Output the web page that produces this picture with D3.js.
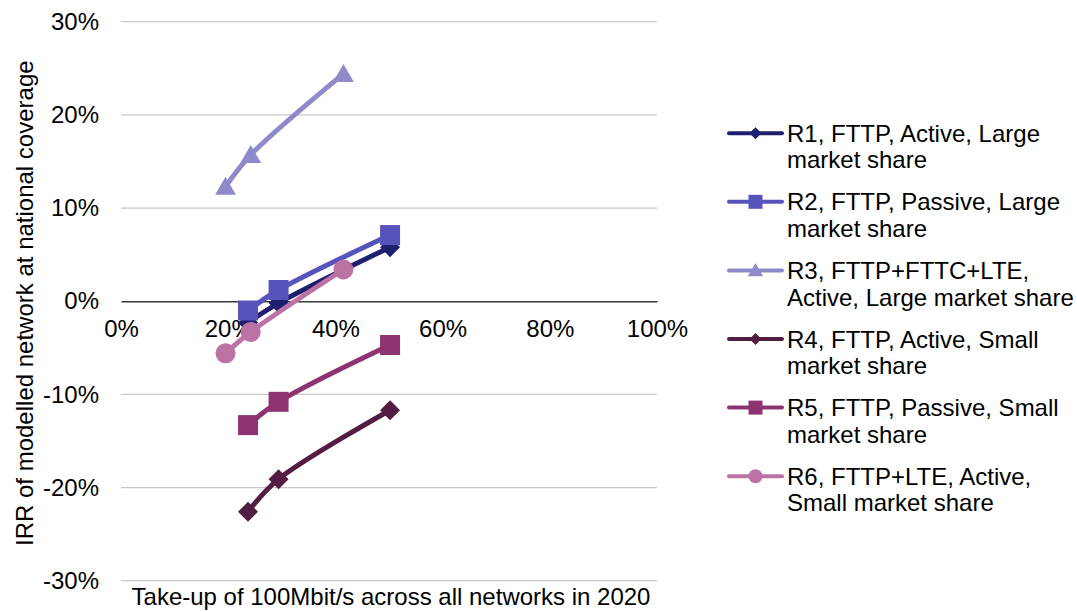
<!DOCTYPE html>
<html>
<head>
<meta charset="utf-8">
<script src="https://cdn.jsdelivr.net/npm/d3@7"></script>
<style>
  html, body { margin: 0; padding: 0; background: #fff; }
  svg { display: block; font-family: "Liberation Sans", Arial, sans-serif; }
</style>
</head>
<body>
<svg id="chart" width="1077" height="612"></svg>
<script>
// Take-up of 100Mbit/s (share) per scenario
const takeUpA = [0.237, 0.294, 0.502];   // R1, R2, R4, R5
const takeUpB = [0.195, 0.242, 0.415];   // R3, R6

// IRR per scenario
const irrR1 = [-0.023, -0.002, 0.058];
const irrR2 = [-0.010, 0.012, 0.071];
const irrR3 = [0.123, 0.157, 0.244];
const irrR4 = [-0.226, -0.191, -0.117];
const irrR5 = [-0.133, -0.108, -0.047];
const irrR6 = [-0.056, -0.033, 0.034];

const seriesNames = [
  ["R1, FTTP, Active, Large", "market share"],
  ["R2, FTTP, Passive, Large", "market share"],
  ["R3, FTTP+FTTC+LTE,", "Active, Large market share"],
  ["R4, FTTP, Active, Small", "market share"],
  ["R5, FTTP, Passive, Small", "market share"],
  ["R6, FTTP+LTE, Active,", "Small market share"]
];
const seriesColors = ["#201e6e", "#5753bd", "#8f8bcb", "#531d41", "#8d3470", "#bb73a5"];
const seriesMarkers = ["diamond", "square", "triangle", "diamond", "square", "circle"];

const yTicks = [-0.3, -0.2, -0.1, 0, 0.1, 0.2, 0.3];
const xTicks = [0, 0.2, 0.4, 0.6, 0.8, 1.0];

const series = [
  { x: takeUpA, y: irrR1 },
  { x: takeUpA, y: irrR2 },
  { x: takeUpB, y: irrR3 },
  { x: takeUpA, y: irrR4 },
  { x: takeUpA, y: irrR5 },
  { x: takeUpB, y: irrR6 }
].map((s, i) => ({
  name: seriesNames[i],
  color: seriesColors[i],
  marker: seriesMarkers[i],
  points: s.x.map((xv, j) => [xv, s.y[j]])
}));

const svg = d3.select("#chart");
const FONT = 24;
const FAMILY = "Liberation Sans, Arial, sans-serif";

const x = d3.scaleLinear().domain([0, 1]).range([121, 657]);
const y = d3.scaleLinear().domain([-0.3, 0.3]).range([580.7, 21.7]);
const pct = d => Math.round(d * 100) + "%";

// horizontal gridlines
svg.append("g")
  .selectAll("line")
  .data(yTicks.filter(t => t !== 0))
  .join("line")
  .attr("x1", x(0)).attr("x2", x(1))
  .attr("y1", d => y(d)).attr("y2", d => y(d))
  .attr("stroke", "#c8c8c8")
  .attr("stroke-width", 1.3);

// y axis labels
const yAxis = svg.append("g")
  .attr("transform", `translate(${x(0)},0)`)
  .call(d3.axisLeft(y).tickValues(yTicks).tickFormat(pct).tickSize(0).tickPadding(22));
yAxis.select(".domain").remove();
yAxis.selectAll("text")
  .attr("font-size", FONT)
  .attr("font-family", FAMILY)
  .attr("fill", "#000");

// x axis drawn at zero
const xAxis = svg.append("g")
  .attr("transform", `translate(0,${y(0)})`)
  .call(d3.axisBottom(x).tickValues(xTicks).tickFormat(pct).tickSize(0).tickPadding(19));
xAxis.select(".domain").attr("stroke", "#3a3a3a").attr("stroke-width", 1.5);
xAxis.selectAll("text")
  .attr("font-size", FONT)
  .attr("font-family", FAMILY)
  .attr("fill", "#000");

// axis titles
svg.append("text")
  .attr("x", (x(0) + x(1)) / 2 + 2)
  .attr("y", 605)
  .attr("text-anchor", "middle")
  .attr("font-size", FONT)
  .text("Take-up of 100Mbit/s across all networks in 2020");

svg.append("text")
  .attr("transform", `translate(33,${(y(0.3) + y(-0.3)) / 2 + 2}) rotate(-90)`)
  .attr("text-anchor", "middle")
  .attr("font-size", FONT)
  .text("IRR of modelled network at national coverage");

// marker shapes
function markerPath(type, size) {
  const h = size / 2;
  switch (type) {
    case "square": return `M${-h},${-h}H${h}V${h}H${-h}Z`;
    case "diamond": return `M0,${-h}L${h},0L0,${h}L${-h},0Z`;
    case "triangle": return `M0,${-h * 1.05}L${h * 1.1},${h * 0.85}L${-h * 1.1},${h * 0.85}Z`;
    case "circle": return `M${h},0A${h},${h} 0 1,1 ${-h},0A${h},${h} 0 1,1 ${h},0Z`;
  }
}
const markerSize = { square: 20, diamond: 20, triangle: 19, circle: 20 };

const line = d3.line()
  .x(d => x(d[0]))
  .y(d => y(d[1]))
  .curve(d3.curveCatmullRom.alpha(0.5));

const plot = svg.append("g");
series.forEach(s => {
  const g = plot.append("g");
  g.append("path")
    .attr("d", line(s.points))
    .attr("fill", "none")
    .attr("stroke", s.color)
    .attr("stroke-width", 5)
    .attr("stroke-linejoin", "round")
    .attr("stroke-linecap", "round");
  g.selectAll("path.m")
    .data(s.points)
    .join("path")
    .attr("class", "m")
    .attr("transform", d => `translate(${x(d[0])},${y(d[1])})`)
    .attr("d", markerPath(s.marker, markerSize[s.marker]))
    .attr("fill", s.color);
});

// legend
const legend = svg.append("g");
const legendTop = 141.7;
const legendStep = 68.6;
const lineGap = 26.7;
series.forEach((s, i) => {
  const base = legendTop + i * legendStep;
  const cy = base - 8.5;
  const g = legend.append("g");
  g.append("line")
    .attr("x1", 729).attr("x2", 782)
    .attr("y1", cy).attr("y2", cy)
    .attr("stroke", s.color)
    .attr("stroke-width", 4)
    .attr("stroke-linecap", "round");
  g.append("path")
    .attr("transform", `translate(755.5,${cy})`)
    .attr("d", markerPath(s.marker, s.marker === "diamond" ? 12 : 14))
    .attr("fill", s.color);
  g.append("text")
    .attr("x", 787)
    .attr("y", base)
    .attr("font-size", FONT)
    .text(s.name[0]);
  g.append("text")
    .attr("x", 787)
    .attr("y", base + lineGap)
    .attr("font-size", FONT)
    .text(s.name[1]);
});
</script>
</body>
</html>
